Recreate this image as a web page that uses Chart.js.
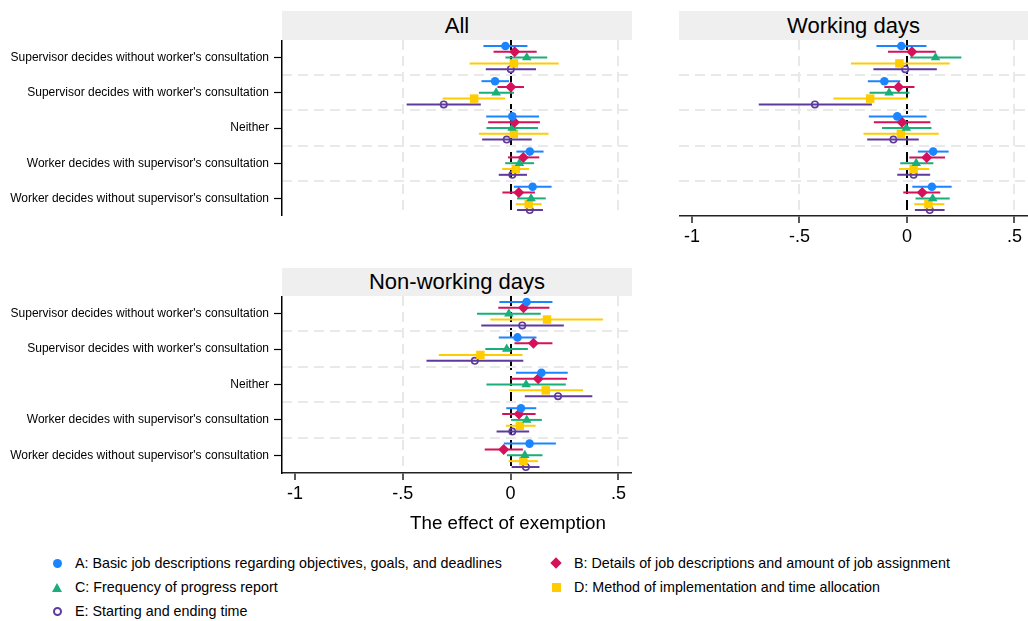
<!DOCTYPE html>
<html>
<head>
<meta charset="utf-8">
<script src="https://cdn.jsdelivr.net/npm/chart.js@4.4.0/dist/chart.umd.min.js"></script>
<style>
  body { margin: 0; background: #fff; width: 1028px; height: 621px; position: relative; overflow: hidden;
         font-family: "Liberation Sans", Arial, Helvetica, sans-serif; color: #000; }
  canvas { position: absolute; }
  .head { position: absolute; background: #efefef; text-align: center; font-size: 22px; }
  .xtitle { position: absolute; left: 0; width: 1016px; top: 512px; text-align: center; font-size: 18.8px; }
  .leg { position: absolute; font-size: 14.3px; line-height: 16px; white-space: nowrap; }
  .mk { position: absolute; }
</style>
</head>
<body>
<div class="head" style="left:282px;top:11px;width:350px;height:29px;line-height:29px;">All</div>
<div class="head" style="left:679px;top:11px;width:349px;height:29px;line-height:29px;">Working days</div>
<div class="head" style="left:282px;top:268px;width:350px;height:28px;line-height:28px;">Non-working days</div>
<canvas id="all" width="632" height="176" style="left:0;top:40px;"></canvas>
<canvas id="work" width="349" height="216" style="left:679px;top:40px;"></canvas>
<canvas id="nonwork" width="632" height="217" style="left:0;top:296px;"></canvas>
<div class="xtitle">The effect of exemption</div>
<div id="legend"></div>
<script>
// categories (rows, top to bottom)
const categories = [
  "Supervisor decides without worker's consultation",
  "Supervisor decides with worker's consultation",
  "Neither",
  "Worker decides with supervisor's consultation",
  "Worker decides without supervisor's consultation"
];
const seriesNames = [
  "A: Basic job descriptions regarding objectives, goals, and deadlines",
  "B: Details of job descriptions and amount of job assignment",
  "C: Frequency of progress report",
  "D: Method of implementation and time allocation",
  "E: Starting and ending time"
];
const xTickValues = [-1, -0.5, 0, 0.5];
const xTickLabels = ["-1", "-.5", "0", ".5"];

// All
const allA = [-0.024, -0.072, 0.008, 0.089, 0.102];
const allACI = [[-0.126, 0.078], [-0.135, -0.007], [-0.113, 0.132], [0.027, 0.153], [0.015, 0.190]];
const allB = [0.019, 0.001, 0.018, 0.059, 0.038];
const allBCI = [[-0.079, 0.121], [-0.061, 0.062], [-0.104, 0.136], [-0.012, 0.133], [-0.038, 0.113]];
const allC = [0.075, -0.067, 0.007, 0.041, 0.095];
const allCCI = [[-0.024, 0.170], [-0.147, 0.016], [-0.112, 0.127], [-0.025, 0.109], [0.030, 0.163]];
const allD = [0.015, -0.169, 0.015, 0.024, 0.084];
const allDCI = [[-0.190, 0.223], [-0.315, -0.025], [-0.147, 0.176], [-0.039, 0.086], [0.024, 0.144]];
const allE = [0.001, -0.310, -0.018, 0.008, 0.089];
const allECI = [[-0.115, 0.118], [-0.482, -0.138], [-0.132, 0.098], [-0.055, 0.076], [0.030, 0.150]];

// Working days
const workA = [-0.026, -0.105, -0.045, 0.122, 0.116];
const workACI = [[-0.142, 0.091], [-0.182, -0.031], [-0.177, 0.091], [0.051, 0.194], [0.025, 0.208]];
const workB = [0.023, -0.039, -0.023, 0.092, 0.071];
const workBCI = [[-0.088, 0.134], [-0.105, 0.035], [-0.154, 0.109], [0.011, 0.177], [-0.017, 0.155]];
const workC = [0.133, -0.083, -0.003, 0.043, 0.120];
const workCCI = [[0.015, 0.253], [-0.174, 0.012], [-0.116, 0.114], [-0.031, 0.123], [0.040, 0.199]];
const workD = [-0.035, -0.171, -0.028, 0.031, 0.100];
const workDCI = [[-0.260, 0.199], [-0.342, 0.003], [-0.202, 0.148], [-0.037, 0.103], [0.034, 0.174]];
const workE = [-0.008, -0.428, -0.063, 0.031, 0.106];
const workECI = [[-0.156, 0.139], [-0.689, -0.163], [-0.185, 0.055], [-0.045, 0.108], [0.037, 0.175]];

// Non-working days
const nonA = [0.074, 0.032, 0.143, 0.048, 0.088];
const nonACI = [[-0.052, 0.194], [-0.055, 0.120], [0.025, 0.265], [-0.020, 0.119], [-0.031, 0.210]];
const nonB = [0.060, 0.106, 0.128, 0.039, -0.032];
const nonBCI = [[-0.057, 0.180], [0.018, 0.194], [0.000, 0.262], [-0.039, 0.116], [-0.120, 0.057]];
const nonC = [-0.008, -0.018, 0.072, 0.075, 0.066];
const nonCCI = [[-0.156, 0.140], [-0.117, 0.080], [-0.112, 0.256], [0.002, 0.145], [-0.017, 0.148]];
const nonD = [0.169, -0.140, 0.163, 0.043, 0.059];
const nonDCI = [[-0.094, 0.428], [-0.333, 0.055], [-0.006, 0.336], [-0.022, 0.116], [-0.009, 0.127]];
const nonE = [0.054, -0.166, 0.220, 0.008, 0.071];
const nonECI = [[-0.136, 0.247], [-0.390, 0.059], [0.066, 0.379], [-0.065, 0.086], [0.005, 0.134]];

// marker styles per series
const styles = [
  { color: "#1a85ff", shape: "circle", r: 4.3, bw: 0, fill: true },
  { color: "#d41159", shape: "rectRot", r: 5.5, bw: 0, fill: true },
  { color: "#1aae7a", shape: "triangle", r: 5.5, bw: 0, fill: true },
  { color: "#ffcc00", shape: "rect", r: 6, bw: 0, fill: true },
  { color: "#5d3a9b", shape: "circle", r: 3.2, bw: 1.6, fill: false }
];
const rowShift = [-0.33, -0.165, 0, 0.165, 0.33];
const gridGray = "#e9e9e9";
const dashes = [10, 6];

Chart.defaults.font.family = '"Liberation Sans", Arial, Helvetica, sans-serif';
Chart.defaults.color = "#000";

// draws the horizontal confidence intervals under the markers
const errorBars = {
  id: "errorBars",
  beforeDatasetsDraw(chart) {
    const { ctx, scales: { x, y } } = chart;
    chart.data.datasets.forEach((ds) => {
      ctx.save();
      ctx.strokeStyle = ds.barColor;
      ctx.lineWidth = 2;
      ds.data.forEach((p) => {
        const py = y.getPixelForValue(p.y);
        ctx.beginPath();
        ctx.moveTo(x.getPixelForValue(p.lo), py);
        ctx.lineTo(x.getPixelForValue(p.hi), py);
        ctx.stroke();
      });
      ctx.restore();
    });
  }
};

function makePanel(id, est, ci, showLabels, showXAxis, xHeight) {
  const datasets = est.map((vals, s) => ({
    label: seriesNames[s],
    data: vals.map((v, i) => ({ x: v, y: i + 1 + rowShift[s], lo: ci[s][i][0], hi: ci[s][i][1] })),
    barColor: styles[s].color,
    pointStyle: styles[s].shape,
    pointRadius: styles[s].r,
    pointHoverRadius: styles[s].r,
    borderWidth: styles[s].bw,
    borderColor: styles[s].color,
    backgroundColor: styles[s].fill ? styles[s].color : "rgba(0,0,0,0)"
  }));
  new Chart(document.getElementById(id), {
    type: "scatter",
    data: { datasets: datasets },
    plugins: [errorBars],
    options: {
      responsive: false,
      animation: false,
      layout: { padding: 0, autoPadding: false },
      plugins: { legend: { display: false }, tooltip: { enabled: false } },
      scales: {
        x: {
          type: "linear",
          min: -1.06,
          max: 0.563,
          afterBuildTicks: (s) => { s.ticks = xTickValues.map((v) => ({ value: v })); },
          afterFit: (s) => { s.height = xHeight; s.paddingLeft = 0; s.paddingRight = 0; },
          ticks: {
            display: showXAxis,
            font: { size: 18 },
            padding: 3,
            maxRotation: 0,
            callback: (v) => xTickLabels[xTickValues.indexOf(v)]
          },
          border: { display: showXAxis, color: "#222", width: 1.5, dash: dashes },
          grid: {
            color: (c) => c.tick.value === 0 ? "#000" : (c.tick.value === -1 ? "rgba(0,0,0,0)" : gridGray),
            lineWidth: 2,
            drawTicks: showXAxis,
            tickLength: 7,
            tickColor: "#222",
            tickWidth: 1.5,
            tickBorderDash: []
          }
        },
        y: {
          type: "linear",
          display: showLabels,
          reverse: true,
          min: 0.5,
          max: 5.5,
          afterBuildTicks: (s) => { s.ticks = categories.map((c, i) => ({ value: i + 1 })); },
          afterFit: (s) => { s.width = showLabels ? 282 : 0; s.paddingTop = 0; s.paddingBottom = 0; },
          ticks: {
            font: { size: 12 },
            padding: 5,
            callback: (v) => categories[v - 1]
          },
          border: { color: "#000", width: 1.5 },
          grid: { drawOnChartArea: false, tickLength: 8, tickColor: "#000", tickWidth: 1.2 }
        },
        yg: {
          type: "linear",
          position: "right",
          reverse: true,
          min: 0.5,
          max: 5.5,
          afterBuildTicks: (s) => { s.ticks = [1.5, 2.5, 3.5, 4.5].map((v) => ({ value: v })); },
          afterFit: (s) => { s.width = 0; s.paddingTop = 0; s.paddingBottom = 0; },
          ticks: { display: false },
          border: { display: false, dash: dashes },
          grid: { color: gridGray, lineWidth: 2, drawTicks: false }
        }
      }
    }
  });
}

makePanel("all", [allA, allB, allC, allD, allE], [allACI, allBCI, allCCI, allDCI, allECI], true, false, 0);
makePanel("work", [workA, workB, workC, workD, workE], [workACI, workBCI, workCCI, workDCI, workECI], false, true, 40);
makePanel("nonwork", [nonA, nonB, nonC, nonD, nonE], [nonACI, nonBCI, nonCCI, nonDCI, nonECI], true, true, 40);

// legend, two columns
const legendPos = [[57, 563], [556, 563], [57, 587], [556, 587], [57, 611]];
const legendMarks = [
  "width:9px;height:9px;border-radius:50%;background:#1a85ff;",
  "width:8px;height:8px;background:#d41159;transform:rotate(45deg);",
  "width:0;height:0;border-left:5px solid transparent;border-right:5px solid transparent;border-bottom:9px solid #1aae7a;",
  "width:9px;height:9px;background:#ffcc00;",
  "width:5px;height:5px;border-radius:50%;border:2px solid #5d3a9b;"
];
const legendSizes = [[9, 9], [8, 8], [10, 9], [9, 9], [9, 9]];
const legend = document.getElementById("legend");
seriesNames.forEach((name, i) => {
  const [cx, cy] = legendPos[i];
  const mk = document.createElement("div");
  mk.className = "mk";
  mk.style.cssText = legendMarks[i] + "left:" + (cx - legendSizes[i][0] / 2) + "px;top:" + (cy - legendSizes[i][1] / 2) + "px;";
  legend.appendChild(mk);
  const t = document.createElement("div");
  t.className = "leg";
  t.style.left = (cx + 18) + "px";
  t.style.top = (cy - 8) + "px";
  t.textContent = name;
  legend.appendChild(t);
});
</script>
</body>
</html>
